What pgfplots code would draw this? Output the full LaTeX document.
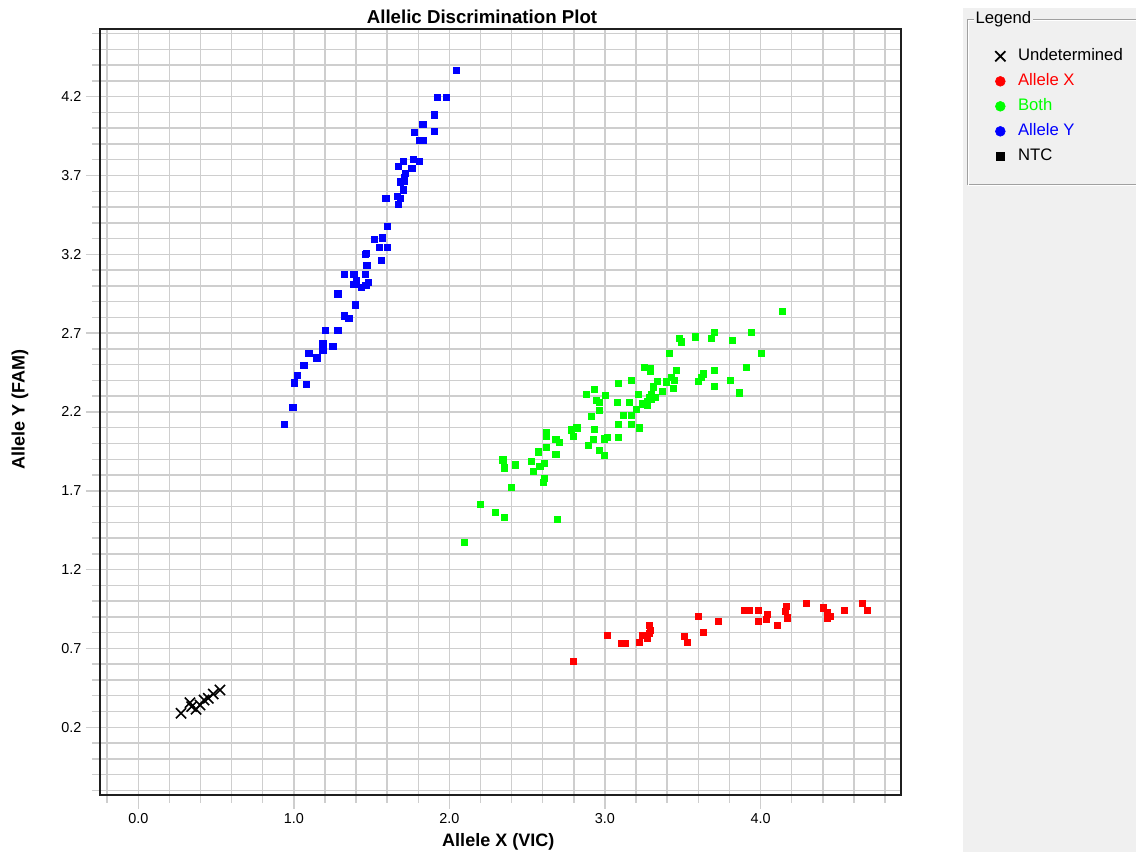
\documentclass[border=0pt]{standalone}
\usepackage{pgfplots}
\pgfplotsset{compat=1.18}
\usepackage{fontspec}
\setmainfont{Liberation Sans}
\definecolor{gridgray}{RGB}{206,206,206}
\definecolor{panelgray}{RGB}{240,240,240}
\definecolor{boxgray}{RGB}{160,160,160}
\definecolor{pgreen}{RGB}{0,255,0}
\definecolor{pred}{RGB}{255,0,0}
\definecolor{pblue}{RGB}{0,0,255}
\begin{document}
\begin{tikzpicture}
% pixel helper scope: pixel (px,py) of the 1136x852 image
\begin{scope}[x=0.75pt, y=-0.75pt, shift={(-75pt,596.25pt)}]
  \fill[white] (0,0) rectangle (1136,852);
  \fill[panelgray] (963,8) rectangle (1136,852);
  \draw[boxgray, line width=0.75pt] (967,19.5) rectangle (1145,185);
  \draw[white, line width=0.75pt] (968,20.5) rectangle (1146,186);
  \node[anchor=west, fill=panelgray, inner sep=1pt, font=\fontsize{12.5}{14}\selectfont] at (974,19) {Legend};
  \node[anchor=center, inner sep=0pt, font=\fontsize{14}{16}\selectfont\bfseries] at (482,17) {Allelic Discrimination Plot};
\end{scope}
\begin{axis}[
  scale only axis,
  width=601pt, height=574.3pt,
  xmin=-0.2462, xmax=4.905,
  ymin=-0.2294, ymax=4.6275,
  axis background/.style={fill=white},
  xtick={0,1,2,3,4},
  minor xtick={-0.2,0,...,4.8},
  ytick={0.2,0.7,1.2,1.7,2.2,2.7,3.2,3.7,4.2},
  minor ytick={-0.2,-0.1,...,4.6},
  grid=both,
  grid style={gridgray, line width=1.1pt},
  minor grid style={gridgray, line width=1.1pt},
  major grid style={gridgray, line width=1.1pt},
  tick align=outside,
  tick pos=left,
  major tick length=10.5pt,
  minor tick length=6pt,
  every tick/.style={gridgray, line width=1.1pt},
  axis line style={black!88, line width=1.5pt},
  /pgf/number format/assume math mode=true,
  /pgf/number format/fixed,
  /pgf/number format/fixed zerofill,
  /pgf/number format/precision=1,
  tick label style={font=\fontsize{10.8}{12}\selectfont, black},
  xlabel={Allele X (VIC)},
  ylabel={Allele Y (FAM)},
  xlabel style={font=\fontsize{13.5}{15}\selectfont\bfseries, at={(axis description cs:0.497,-0.0725)}, anchor=south, inner sep=0pt},
  ylabel style={font=\fontsize{13.5}{15}\selectfont\bfseries, at={(axis description cs:-0.0998,0.503)}, anchor=center, inner sep=0pt},
  legend style={at={(axis description cs:1.1172,0.9751)}, anchor=north west, draw=none, fill=none,
    font=\fontsize{12.5}{14}\selectfont, inner sep=0pt, outer sep=0pt,
    row sep=6.75pt, column sep=9.5pt,
    nodes={inner sep=0pt, text height=9pt, text depth=3pt}},
  legend cell align=left,
  clip=false,
]
% legend images
\addlegendimage{only marks, mark=x, mark size=5.4pt, black, line width=1.3pt}
\addlegendentry{Undetermined}
\addlegendimage{only marks, mark=*, mark size=3.7pt, pred}
\addlegendentry{\textcolor{pred}{Allele X}}
\addlegendimage{only marks, mark=*, mark size=3.7pt, pgreen}
\addlegendentry{\textcolor{pgreen}{Both}}
\addlegendimage{only marks, mark=*, mark size=3.7pt, pblue}
\addlegendentry{\textcolor{pblue}{Allele Y}}
\addlegendimage{only marks, mark=square*, mark size=3.0pt, black}
\addlegendentry{NTC}

% Undetermined
\addplot[forget plot, only marks, mark=x, mark size=5.4pt, black, line width=1.2pt] coordinates {
(0.275,0.289) (0.332,0.356) (0.343,0.331) (0.371,0.314) (0.397,0.341)
(0.423,0.373) (0.450,0.384) (0.482,0.411) (0.525,0.437)
};
% Allele Y (blue)
\addplot[forget plot, only marks, mark=square*, mark size=2.3pt, pblue] coordinates {
(2.045,4.368) (1.921,4.195) (1.979,4.195) (1.900,4.085) (1.829,4.024)
(1.775,3.975) (1.900,3.983) (1.805,3.922) (1.831,3.922) (1.768,3.804)
(1.805,3.791) (1.704,3.791) (1.672,3.761) (1.758,3.745) (1.715,3.713)
(1.711,3.690) (1.683,3.660) (1.711,3.664) (1.704,3.609) (1.591,3.558)
(1.662,3.569) (1.683,3.558) (1.672,3.518) (1.599,3.377) (1.569,3.305)
(1.518,3.296) (1.550,3.244) (1.599,3.244) (1.466,3.206) (1.458,3.201)
(1.561,3.163) (1.469,3.131) (1.323,3.073) (1.385,3.073) (1.458,3.073)
(1.400,3.036) (1.385,3.009) (1.477,3.022) (1.462,3.005) (1.432,2.990)
(1.282,2.950) (1.395,2.880) (1.323,2.810) (1.353,2.797) (1.201,2.717)
(1.282,2.717) (1.186,2.635) (1.186,2.612) (1.186,2.593) (1.250,2.618)
(1.096,2.575) (1.147,2.544) (1.064,2.495) (1.023,2.434) (1.001,2.385)
(1.077,2.375) (0.993,2.231) (0.939,2.121)
};
% Both (green)
\addplot[forget plot, only marks, mark=square*, mark size=2.3pt, pgreen] coordinates {
(2.096,1.373) (2.199,1.614) (2.292,1.563) (2.354,1.532) (2.695,1.521)
(2.397,1.724) (2.343,1.897) (2.354,1.846) (2.424,1.865) (2.527,1.887)
(2.540,1.823) (2.581,1.855) (2.611,1.876) (2.611,1.779) (2.603,1.754)
(2.570,1.948) (2.622,1.977) (2.620,2.071) (2.620,2.045) (2.684,2.028)
(2.705,2.007) (2.684,1.930) (2.785,2.087) (2.819,2.100) (2.797,2.047)
(4.138,2.838) (3.942,2.707) (3.704,2.707) (3.683,2.667) (3.580,2.677)
(3.818,2.656) (3.477,2.667) (3.490,2.645) (4.003,2.575) (3.415,2.575)
(3.250,2.483) (3.293,2.476) (3.293,2.459) (3.458,2.466) (3.704,2.466)
(3.910,2.483) (3.632,2.442) (3.619,2.421) (3.601,2.394) (3.424,2.419)
(3.447,2.402) (3.394,2.392) (3.807,2.402) (3.334,2.394) (3.312,2.360)
(3.168,2.402) (3.087,2.383) (3.437,2.352) (3.366,2.333) (3.704,2.362)
(3.861,2.322) (3.295,2.314) (3.323,2.293) (3.284,2.293) (3.269,2.269)
(3.295,2.280) (3.212,2.312) (3.239,2.252) (3.269,2.242) (3.201,2.218)
(3.158,2.261) (3.077,2.261) (2.932,2.343) (2.881,2.312) (3.003,2.307)
(2.942,2.274) (2.963,2.263) (2.963,2.212) (2.911,2.172) (3.117,2.180)
(3.168,2.180) (3.087,2.121) (3.168,2.121) (3.220,2.100) (2.932,2.090)
(2.922,2.028) (2.993,2.030) (3.014,2.039) (3.087,2.039) (2.890,1.988)
(2.963,1.956) (2.993,1.927)
};
% Allele X (red)
\addplot[forget plot, only marks, mark=square*, mark size=2.3pt, pred] coordinates {
(2.797,0.620) (3.014,0.783) (3.106,0.733) (3.128,0.733) (3.218,0.741)
(3.239,0.783) (3.271,0.762) (3.282,0.847) (3.291,0.817) (3.286,0.796)
(3.509,0.775) (3.529,0.741) (3.601,0.906) (3.633,0.804) (3.726,0.874)
(3.897,0.944) (3.925,0.944) (3.983,0.944) (3.985,0.874) (4.035,0.885)
(4.045,0.917) (4.107,0.847) (4.157,0.937) (4.165,0.969) (4.170,0.895)
(4.294,0.986) (4.405,0.958) (4.427,0.931) (4.427,0.895) (4.448,0.906)
(4.540,0.944) (4.654,0.986) (4.684,0.944)
};
\end{axis}
\pgfresetboundingbox
\path[use as bounding box] (-75pt,596.25pt) rectangle (777pt,-42.75pt);
\end{tikzpicture}
\end{document}
